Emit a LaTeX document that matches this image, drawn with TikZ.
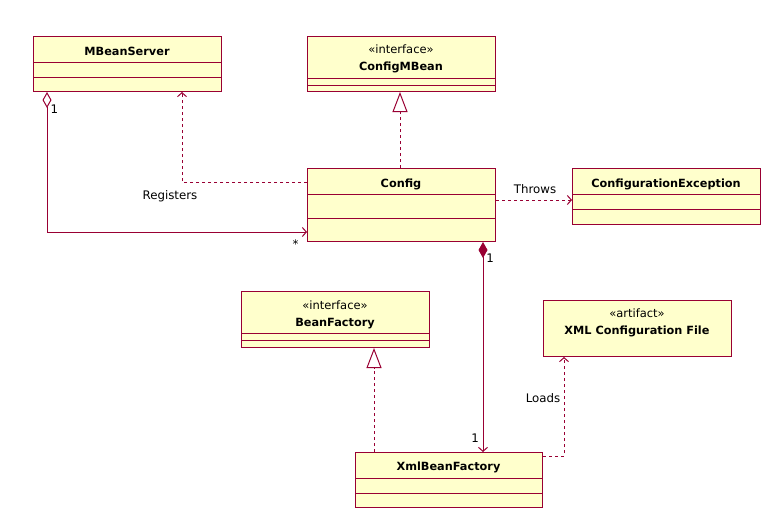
\documentclass[tikz,border=0pt]{standalone}
\usepackage{fontspec}
\setmainfont{DejaVu Sans}
\usetikzlibrary{arrows.meta}
\definecolor{lc}{RGB}{153,0,51}
\definecolor{fc}{RGB}{255,255,204}
\tikzset{
  cls/.style={draw=lc, fill=fc, line width=1pt, inner sep=0pt, anchor=north west},
  nm/.style={anchor=base, inner sep=0pt, font=\fontsize{11.3}{13}\selectfont\bfseries},
  st/.style={anchor=base, inner sep=0pt, font=\fontsize{11.5}{13}\selectfont},
  lb/.style={anchor=base, inner sep=0pt, font=\fontsize{11.8}{13}\selectfont},
  div/.style={draw=lc, line width=1pt},
  dep/.style={draw=lc, line width=1pt, dash pattern=on 3pt off 3pt, -{Straight Barb[length=4pt,width=9pt]}},
  real/.style={draw=lc, line width=1pt, dash pattern=on 3pt off 3pt, -{Triangle[open,length=20pt,width=15pt]}},
  assoc/.style={draw=lc, line width=1pt},
}
\begin{document}
\begin{tikzpicture}[x=1pt,y=-1pt]
\useasboundingbox (0,0) rectangle (774,530);
% classes
\node[cls, minimum width=188pt, minimum height=55pt] (mbs) at (33,36) {};
\draw[div] (mbs.west |- 0,62) -- (mbs.east |- 0,62);
\draw[div] (mbs.west |- 0,77) -- (mbs.east |- 0,77);
\node[nm] (mbsn) at (127,55) {MBeanServer};

\node[cls, minimum width=188pt, minimum height=55pt] (cmb) at (307,36) {};
\draw[div] (cmb.west |- 0,78) -- (cmb.east |- 0,78);
\draw[div] (cmb.west |- 0,85) -- (cmb.east |- 0,85);
\node[st] (cmbs) at (401,53) {«interface»};
\node[nm] (cmbn) at (401,70) {ConfigMBean};

\node[cls, minimum width=188pt, minimum height=73pt] (cfg) at (307,168) {};
\draw[div] (cfg.west |- 0,194) -- (cfg.east |- 0,194);
\draw[div] (cfg.west |- 0,218) -- (cfg.east |- 0,218);
\node[nm] (cfgn) at (401,187) {Config};

\node[cls, minimum width=188pt, minimum height=56pt] (cex) at (572,168) {};
\draw[div] (cex.west |- 0,194) -- (cex.east |- 0,194);
\draw[div] (cex.west |- 0,209) -- (cex.east |- 0,209);
\node[nm] (cexn) at (666,187) {ConfigurationException};

\node[cls, minimum width=188pt, minimum height=56pt] (bf) at (241,291) {};
\draw[div] (bf.west |- 0,333) -- (bf.east |- 0,333);
\draw[div] (bf.west |- 0,340) -- (bf.east |- 0,340);
\node[st] (bfs) at (335,309) {«interface»};
\node[nm] (bfn) at (335,326) {BeanFactory};

\node[cls, minimum width=188pt, minimum height=56pt] (xml) at (543,300) {};
\node[st] (xmls) at (637,317) {«artifact»};
\node[nm] (xmln) at (637,334) {XML Configuration File};

\node[cls, minimum width=187pt, minimum height=55pt] (xbf) at (355,452) {};
\draw[div] (xbf.west |- 0,478) -- (xbf.east |- 0,478);
\draw[div] (xbf.west |- 0,493) -- (xbf.east |- 0,493);
\node[nm] (xbfn) at (448.5,470) {XmlBeanFactory};

% connectors
\draw[dep] (cfg.west |- 0,182) -| (182,0 |- mbs.south);
\node[lb] (reg) at (170,199) {Registers};

\draw[real] (400,0 |- cfg.north) -- (400,0 |- cmb.south);
\draw[real] (374,0 |- xbf.north) -- (374,0 |- bf.south);

\draw[assoc, {Diamond[open,length=16pt,width=9pt]}-{Straight Barb[length=4pt,width=9pt]}]
  (47,0 |- mbs.south) |- (cfg.west |- 0,232);
\node[lb] (m1) at (54.5,113) {1};
\node[lb] (m2) at (295.5,248) {*};

\draw[dep] (cfg.east |- 0,200) -- (cex.west |- 0,200);
\node[lb] (thr) at (535,193) {Throws};

\draw[assoc, {Diamond[length=16pt,width=9pt]}-{Straight Barb[length=4pt,width=9pt]}]
  (483,0 |- cfg.south) -- (483,0 |- xbf.north);
\node[lb] (c1) at (490,262) {1};
\node[lb] (c2) at (475,442) {1};

\draw[dep] (xbf.east |- 0,456) -| (564,0 |- xml.south);
\node[lb] (lds) at (543,402) {Loads};
\end{tikzpicture}
\end{document}
